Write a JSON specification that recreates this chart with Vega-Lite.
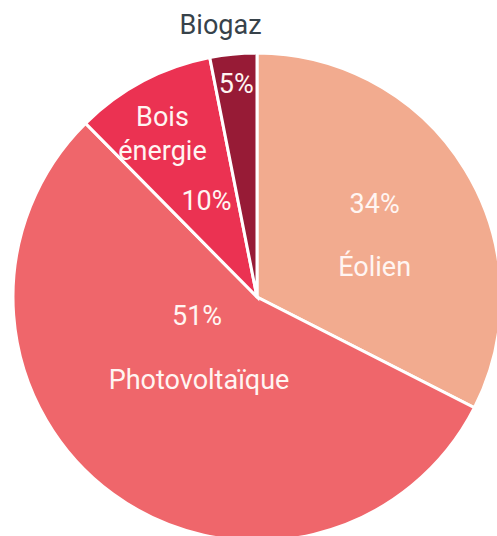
{
  "$schema": "https://vega.github.io/schema/vega-lite/v6.json",
  "width": 514,
  "height": 594,
  "autosize": {"type": "none"},
  "padding": {"left": 0, "top": 0, "right": -17, "bottom": -58},
  "background": "white",
  "config": {"view": {"stroke": null}, "text": {"font": "Roboto", "fontSize": 27, "fontWeight": "normal"}},
  "data": {"values": [
    {"cat": "Éolien", "value": 32.5, "pct": "34%", "ord": 1},
    {"cat": "Photovoltaïque", "value": 55.1, "pct": "51%", "ord": 2},
    {"cat": "Bois énergie", "value": 9.3, "pct": "10%", "ord": 3},
    {"cat": "Biogaz", "value": 3.1, "pct": "5%", "ord": 4}
  ]},
  "encoding": {
    "theta": {"field": "value", "type": "quantitative", "stack": true},
    "order": {"field": "ord", "type": "quantitative"}
  },
  "layer": [
    {
      "mark": {"type": "arc", "outerRadius": 244, "stroke": "white", "strokeWidth": 3},
      "encoding": {
        "color": {"field": "cat", "type": "nominal", "legend": null,
          "scale": {"domain": ["Éolien", "Photovoltaïque", "Bois énergie", "Biogaz"],
                    "range": ["#F2AB8F", "#EF666B", "#EB3252", "#971B36"]}}
      }
    },
    {
      "mark": {"type": "text", "radius": 138, "dy": -20, "fill": "#fff5f2"},
      "encoding": {"text": {"condition": {"test": "datum.cat === 'Éolien'", "field": "pct"}, "value": ""}}
    },
    {
      "mark": {"type": "text", "radius": 138, "dy": 43, "fill": "#fff5f2"},
      "encoding": {"text": {"condition": {"test": "datum.cat === 'Éolien'", "field": "cat"}, "value": ""}}
    },
    {
      "mark": {"type": "text", "radius": 101.6, "dy": -62, "fill": "#fff5f2"},
      "encoding": {"text": {"condition": {"test": "datum.cat === 'Photovoltaïque'", "field": "pct"}, "value": ""}}
    },
    {
      "mark": {"type": "text", "radius": 101.6, "dy": 2, "dx": 2, "fill": "#fff5f2"},
      "encoding": {"text": {"condition": {"test": "datum.cat === 'Photovoltaïque'", "field": "cat"}, "value": ""}}
    },
    {
      "mark": {"type": "text", "radius": 108, "fill": "#fff5f2"},
      "encoding": {"text": {"condition": {"test": "datum.cat === 'Bois énergie'", "field": "pct"}, "value": ""}}
    },
    {
      "mark": {"type": "text", "radius": 202, "lineBreak": " ", "lineHeight": 34, "fill": "#fff5f2"},
      "encoding": {"text": {"condition": {"test": "datum.cat === 'Bois énergie'", "field": "cat"}, "value": ""}}
    },
    {
      "mark": {"type": "text", "radius": 213, "fill": "#fff5f2"},
      "encoding": {"text": {"condition": {"test": "datum.cat === 'Biogaz'", "field": "pct"}, "value": ""}}
    },
    {
      "mark": {"type": "text", "radius": 272, "dx": -10, "fill": "#37424A"},
      "encoding": {"text": {"condition": {"test": "datum.cat === 'Biogaz'", "field": "cat"}, "value": ""}}
    }
  ]
}
